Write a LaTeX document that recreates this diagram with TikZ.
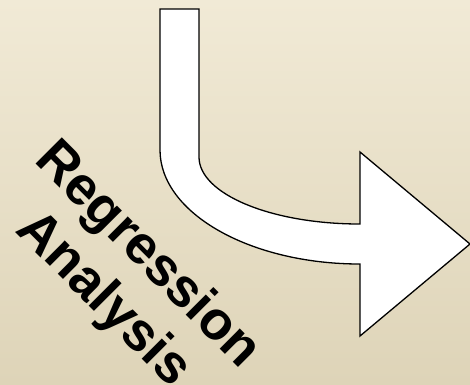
\documentclass[tikz,border=0pt]{standalone}
\usepackage{fontspec}
\setmainfont{Liberation Sans}
\begin{document}
\begin{tikzpicture}[x=1pt,y=-1pt,
  arrowshape/.style={draw=black,line width=1.3pt,fill=white,line join=miter},
  label/.style={font=\fontsize{54}{62}\selectfont\bfseries,text=black,align=center,rotate=-45,inner sep=0pt}]
\definecolor{bgtop}{RGB}{241,234,214}
\definecolor{bgbot}{RGB}{222,212,184}
\shade[top color=bgtop,bottom color=bgbot] (0,0) rectangle (470,384);
\useasboundingbox (0,0) rectangle (470,384);
\draw[arrowshape] (160,9) -- (199,9) -- (199,157)
  .. controls (199,194) and (271,224) .. (360,224)
  -- (360,152) -- (470,244) -- (360,336) -- (360,264)
  .. controls (250,264) and (160,213) .. (160,150) -- cycle;
\node[label] (txt) at (125,278) {Regression\\Analysis};
\end{tikzpicture}
\end{document}
